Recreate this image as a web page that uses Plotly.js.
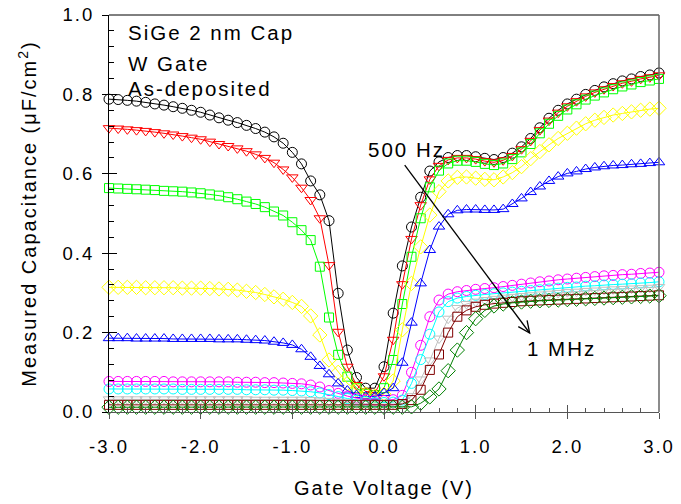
<!DOCTYPE html>
<html>
<head>
<meta charset="utf-8">
<script src="https://cdn.plot.ly/plotly-3.0.1.min.js"></script>
<style>
  html, body { margin: 0; padding: 0; background: #fff; }
  #chart { width: 681px; height: 504px; }
  #chart svg text { letter-spacing: 2px; }
</style>
</head>
<body>
<div id="chart"></div>
<script>
// Gate voltage (V)
const voltage = [-3.0,-2.9,-2.8,-2.7,-2.6,-2.5,-2.4,-2.3,-2.2,-2.1,-2.0,-1.9,-1.8,-1.7,-1.6,-1.5,-1.4,-1.3,-1.2,-1.1,-1.0,-0.9,-0.8,-0.7,-0.6,-0.5,-0.4,-0.3,-0.2,-0.1,0.0,0.1,0.2,0.3,0.4,0.5,0.6,0.7,0.8,0.9,1.0,1.1,1.2,1.3,1.4,1.5,1.6,1.7,1.8,1.9,2.0,2.1,2.2,2.3,2.4,2.5,2.6,2.7,2.8,2.9,3.0];

// Measured capacitance (uF/cm^2), one array per frequency (500 Hz ... 1 MHz)
const cBlack = [0.788,0.787,0.785,0.783,0.780,0.776,0.773,0.769,0.765,0.760,0.755,0.748,0.741,0.735,0.729,0.722,0.714,0.705,0.693,0.677,0.654,0.625,0.582,0.547,0.482,0.299,0.156,0.087,0.060,0.060,0.114,0.249,0.368,0.466,0.541,0.607,0.630,0.641,0.646,0.646,0.643,0.639,0.636,0.641,0.652,0.668,0.689,0.716,0.740,0.760,0.776,0.788,0.800,0.810,0.819,0.827,0.834,0.839,0.845,0.849,0.854];
const cRed = [0.715,0.714,0.712,0.710,0.708,0.705,0.702,0.699,0.695,0.691,0.687,0.681,0.675,0.670,0.664,0.657,0.649,0.640,0.628,0.611,0.591,0.565,0.534,0.488,0.370,0.202,0.114,0.068,0.052,0.048,0.090,0.182,0.322,0.436,0.521,0.586,0.620,0.635,0.640,0.640,0.637,0.632,0.629,0.634,0.645,0.662,0.683,0.710,0.734,0.754,0.770,0.783,0.795,0.805,0.813,0.821,0.828,0.833,0.839,0.843,0.848];
const cGreen = [0.564,0.563,0.562,0.561,0.560,0.559,0.557,0.556,0.555,0.553,0.551,0.548,0.545,0.541,0.536,0.530,0.524,0.516,0.505,0.495,0.478,0.458,0.433,0.366,0.238,0.144,0.089,0.060,0.046,0.042,0.060,0.131,0.272,0.391,0.488,0.566,0.608,0.626,0.633,0.633,0.630,0.625,0.622,0.626,0.637,0.654,0.675,0.702,0.726,0.746,0.762,0.775,0.787,0.797,0.805,0.813,0.820,0.825,0.831,0.835,0.839];
const cYellow = [0.314,0.314,0.314,0.314,0.313,0.313,0.313,0.313,0.312,0.312,0.312,0.311,0.310,0.309,0.307,0.304,0.301,0.296,0.290,0.284,0.276,0.266,0.242,0.194,0.131,0.100,0.072,0.055,0.045,0.040,0.045,0.078,0.207,0.324,0.416,0.496,0.555,0.582,0.591,0.592,0.589,0.586,0.585,0.592,0.603,0.618,0.638,0.656,0.673,0.689,0.702,0.715,0.726,0.735,0.742,0.748,0.752,0.756,0.760,0.763,0.765];
const cBlue = [0.186,0.186,0.186,0.185,0.185,0.185,0.185,0.184,0.184,0.184,0.184,0.184,0.183,0.183,0.183,0.182,0.181,0.180,0.177,0.174,0.169,0.158,0.139,0.116,0.095,0.072,0.054,0.043,0.039,0.039,0.048,0.060,0.124,0.225,0.324,0.408,0.467,0.498,0.508,0.510,0.510,0.509,0.509,0.511,0.524,0.538,0.554,0.568,0.582,0.593,0.601,0.606,0.612,0.616,0.619,0.621,0.622,0.624,0.625,0.627,0.629];
const cMagenta = [0.077,0.077,0.077,0.077,0.077,0.077,0.077,0.076,0.076,0.076,0.076,0.076,0.076,0.076,0.075,0.075,0.075,0.074,0.074,0.073,0.072,0.071,0.068,0.063,0.054,0.047,0.040,0.035,0.032,0.030,0.029,0.031,0.042,0.100,0.168,0.240,0.282,0.297,0.303,0.306,0.309,0.311,0.313,0.316,0.319,0.322,0.325,0.328,0.330,0.333,0.335,0.337,0.339,0.341,0.343,0.344,0.346,0.347,0.349,0.350,0.352];
const cCyan = [0.058,0.058,0.058,0.058,0.058,0.058,0.058,0.058,0.057,0.057,0.057,0.057,0.057,0.057,0.057,0.056,0.056,0.056,0.055,0.055,0.054,0.053,0.051,0.048,0.044,0.039,0.034,0.030,0.027,0.025,0.024,0.025,0.030,0.072,0.132,0.196,0.252,0.278,0.287,0.291,0.294,0.296,0.298,0.300,0.302,0.304,0.306,0.308,0.310,0.312,0.314,0.315,0.317,0.318,0.320,0.321,0.322,0.323,0.325,0.326,0.328];
const cGray = [0.032,0.032,0.032,0.032,0.032,0.032,0.032,0.032,0.032,0.032,0.032,0.032,0.032,0.032,0.032,0.032,0.031,0.031,0.031,0.031,0.031,0.031,0.030,0.029,0.028,0.026,0.024,0.022,0.021,0.020,0.020,0.020,0.022,0.040,0.082,0.130,0.185,0.235,0.262,0.272,0.278,0.282,0.285,0.288,0.290,0.292,0.294,0.296,0.298,0.300,0.302,0.303,0.305,0.306,0.308,0.309,0.310,0.311,0.312,0.313,0.315];
const cBrown = [0.018,0.018,0.018,0.018,0.018,0.018,0.018,0.018,0.018,0.018,0.018,0.018,0.018,0.018,0.018,0.018,0.018,0.018,0.018,0.018,0.018,0.018,0.018,0.018,0.018,0.018,0.018,0.018,0.018,0.018,0.018,0.018,0.020,0.030,0.056,0.106,0.145,0.200,0.240,0.256,0.265,0.270,0.273,0.275,0.277,0.279,0.280,0.281,0.282,0.283,0.284,0.285,0.286,0.287,0.288,0.289,0.290,0.291,0.292,0.293,0.294];
const cDkGreen = [0.012,0.012,0.012,0.012,0.012,0.012,0.012,0.012,0.012,0.012,0.012,0.012,0.012,0.012,0.012,0.012,0.012,0.012,0.012,0.012,0.012,0.012,0.012,0.012,0.012,0.012,0.012,0.012,0.012,0.012,0.012,0.012,0.012,0.013,0.022,0.038,0.058,0.104,0.156,0.200,0.235,0.256,0.267,0.272,0.275,0.277,0.279,0.280,0.281,0.282,0.283,0.284,0.285,0.286,0.287,0.288,0.289,0.290,0.291,0.292,0.293];

// Tick labels
const xTickVals = [-3, -2, -1, 0, 1, 2, 3];
const xTickText = ['-3.0', '-2.0', '-1.0', '0.0', '1.0', '2.0', '3.0'];
const yTickVals = [0, 0.2, 0.4, 0.6, 0.8, 1.0];
const yTickText = ['0.0', '0.2', '0.4', '0.6', '0.8', '1.0'];

const seriesList = [
  {y: cBlack,   color: '#000000', symbol: 'circle-open',        size: 10},
  {y: cRed,     color: '#ff0000', symbol: 'triangle-down-open', size: 10},
  {y: cGreen,   color: '#00ff00', symbol: 'square-open',        size: 9},
  {y: cYellow,  color: '#ffff00', symbol: 'diamond-open',       size: 11},
  {y: cBlue,    color: '#0000ff', symbol: 'triangle-up-open',   size: 10},
  {y: cMagenta, color: '#ff00ff', symbol: 'circle-open',        size: 10},
  {y: cCyan,    color: '#00ffff', symbol: 'circle-open',        size: 10},
  {y: cGray,    color: '#c0c0c0', symbol: 'triangle-down-open', size: 10},
  {y: cBrown,   color: '#800000', symbol: 'square-open',        size: 9},
  {y: cDkGreen, color: '#008000', symbol: 'diamond-open',       size: 11}
];

const traces = seriesList.map(s => ({
  x: voltage, y: s.y, type: 'scatter', mode: 'lines+markers',
  line: {color: s.color, width: 1},
  marker: {symbol: s.symbol, size: s.size, color: s.color, line: {color: s.color, width: 1}},
  cliponaxis: false, showlegend: false, hoverinfo: 'skip'
}));
traces.push({x: [], y: [], xaxis: 'x2', yaxis: 'y2', type: 'scatter', showlegend: false});

const FONT = 'Liberation Sans, Arial, sans-serif';
const xr = [-3, 3], yr = [0, 1];

const layout = {
  width: 681, height: 504,
  margin: {l: 109, r: 22, t: 15, b: 92},
  paper_bgcolor: '#ffffff', plot_bgcolor: '#ffffff',
  font: {family: FONT, size: 18, color: '#000'},
  showlegend: false,
  xaxis: {
    range: xr, tickmode: 'array', tickvals: xTickVals, ticktext: xTickText,
    ticks: 'outside', ticklen: 6, tickcolor: '#555', tickwidth: 1,
    showline: true, linecolor: '#555', linewidth: 1, showgrid: false, zeroline: false,
    tickfont: {family: FONT, size: 18.5, color: '#000'}, ticklabelstandoff: 12,
    title: {text: 'Gate Voltage (V)', font: {family: FONT, size: 20, color: '#000'}, standoff: 24}
  },
  yaxis: {
    range: yr, tickmode: 'array', tickvals: yTickVals, ticktext: yTickText,
    ticks: 'outside', ticklen: 6, tickcolor: '#000', tickwidth: 1,
    showline: true, linecolor: '#000', linewidth: 1, showgrid: false, zeroline: false,
    tickfont: {family: FONT, size: 18.5, color: '#000'}, ticklabelstandoff: 4,
    title: {text: 'Measured Capacitance (μF/cm<sup>2</sup>)', font: {family: FONT, size: 20, color: '#000'}, standoff: 26}
  },
  xaxis2: {
    overlaying: 'x', anchor: 'y', side: 'bottom', range: xr,
    tickmode: 'array', tickvals: xTickVals, showticklabels: false,
    ticks: 'inside', ticklen: 7, tickcolor: '#555', tickwidth: 1,
    minor: {tickmode: 'linear', tick0: -3, dtick: 0.2, ticks: 'inside', ticklen: 4, tickcolor: '#555', tickwidth: 1},
    showline: false, showgrid: false, zeroline: false
  },
  yaxis2: {
    overlaying: 'y', anchor: 'x', side: 'left', range: yr,
    tickmode: 'array', tickvals: yTickVals, showticklabels: false,
    ticks: 'inside', ticklen: 8, tickcolor: '#000', tickwidth: 1,
    minor: {tickmode: 'linear', tick0: 0, dtick: 0.04, ticks: 'inside', ticklen: 5, tickcolor: '#000', tickwidth: 1},
    showline: false, showgrid: false, zeroline: false
  },
  shapes: [
    {type: 'line', xref: 'paper', yref: 'paper', x0: 0, x1: 1, y0: 1, y1: 1, line: {color: '#000', width: 1}},
    {type: 'line', xref: 'paper', yref: 'paper', x0: 1, x1: 1, y0: 0, y1: 1, line: {color: '#666', width: 1.5}},
    // frequency arrow
    {type: 'line', xref: 'x', yref: 'y', x0: 0.226, y0: 0.622, x1: 1.589, y1: 0.199, line: {color: '#000', width: 1.3}},
    {type: 'path', xref: 'x', yref: 'y', path: 'M1.561,0.231 L1.589,0.199 L1.465,0.215', line: {color: '#000', width: 1.3}}
  ],
  annotations: [
    {xref: 'x', yref: 'y', x: -2.82, y: 0.955, xanchor: 'left', yanchor: 'middle', align: 'left', text: 'SiGe 2 nm Cap', showarrow: false, font: {family: FONT, size: 20.5, color: '#000'}},
    {xref: 'x', yref: 'y', x: -2.82, y: 0.879, xanchor: 'left', yanchor: 'middle', align: 'left', text: 'W Gate', showarrow: false, font: {family: FONT, size: 20.5, color: '#000'}},
    {xref: 'x', yref: 'y', x: -2.82, y: 0.814, xanchor: 'left', yanchor: 'middle', align: 'left', text: 'As-deposited', showarrow: false, font: {family: FONT, size: 20.5, color: '#000'}},
    {xref: 'x', yref: 'y', x: 0.246, y: 0.660, xanchor: 'center', yanchor: 'middle', text: '500 Hz', showarrow: false, font: {family: FONT, size: 20.5, color: '#000'}},
    {xref: 'x', yref: 'y', x: 1.94, y: 0.161, xanchor: 'center', yanchor: 'middle', text: '1 MHz', showarrow: false, font: {family: FONT, size: 20.5, color: '#000'}}
  ]
};

Plotly.newPlot('chart', traces, layout, {staticPlot: true, displayModeBar: false});
</script>
</body>
</html>
